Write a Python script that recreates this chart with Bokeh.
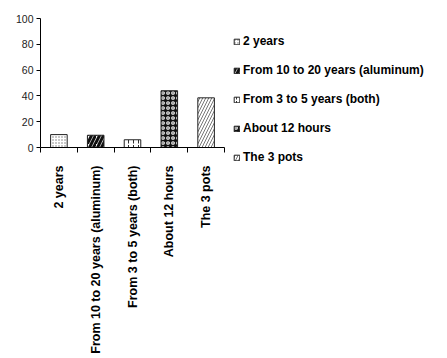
import math
from bokeh.plotting import figure
from bokeh.models import ColumnDataSource, FixedTicker, Range1d, Legend, LegendItem, Label
from bokeh.embed import file_html
from bokeh.resources import INLINE

categories = ["2 years", "From 10 to 20 years (aluminum)", "From 3 to 5 years (both)",
              "About 12 hours", "The 3 pots"]
values = [10, 9.5, 6, 44, 38.5]
y_ticks = [0, 20, 40, 60, 80, 100]

patterns = ["dot", "right_diagonal_line", "vertical_dash", "ring", "right_diagonal_line"]
fills = ["white", "white", "white", "#111111", "white"]
hatch_colors = ["#777777", "#111111", "#333333", "white", "#777777"]
hatch_weights = [1, 3, 1, 1.2, 1]
hatch_scales = [3, 8, 5, 5, 6]

xs = [i + 0.5 for i in range(len(categories))]
src = ColumnDataSource(dict(x=xs, top=values, cat=categories, hp=patterns, fc=fills,
                            hc=hatch_colors, hw=hatch_weights, hs=hatch_scales))

p = figure(frame_width=184, frame_height=129, output_backend="svg", toolbar_location=None,
           x_range=Range1d(0, len(categories)), y_range=Range1d(0, 100),
           min_border_left=40, min_border_right=0, min_border_top=18, min_border_bottom=193)
p.outline_line_color = None
p.grid.grid_line_color = None
p.background_fill_color = "white"

r = p.vbar(x="x", top="top", width=0.45, source=src, fill_color="fc", line_color="#222222",
           line_width=1, hatch_pattern="hp", hatch_color="hc", hatch_weight="hw", hatch_scale="hs")

font = "Liberation Sans"
xa = p.xaxis[0]
xa.ticker = FixedTicker(ticks=xs, minor_ticks=list(range(len(categories) + 1)))
xa.major_label_overrides = {x: c for x, c in zip(xs, categories)}
xa.major_tick_line_color = None
xa.major_tick_out = 0
xa.major_tick_in = 0
xa.minor_tick_out = 5
xa.minor_tick_in = 0
xa.minor_tick_line_color = "black"
xa.axis_line_color = "black"
xa.major_label_orientation = math.pi / 2
xa.major_label_text_font = font
xa.major_label_text_font_style = "bold"
xa.major_label_text_font_size = "12.5px"
xa.major_label_text_color = "black"
xa.major_label_standoff = 13

ya = p.yaxis[0]
ya.ticker = FixedTicker(ticks=y_ticks)
ya.minor_tick_line_color = None
ya.major_tick_out = 4
ya.major_tick_in = 0
ya.major_label_text_font = font
ya.major_label_text_font_size = "10.5px"
ya.major_label_text_color = "#222222"
ya.axis_line_color = "black"
ya.major_label_standoff = 3

pct = Label(x=-0.68, y=48, text="%", text_font=font, text_font_style="bold",
            text_font_size="10px", text_color="black", text_align="center", text_baseline="middle")
p.add_layout(pct)

legend = Legend(items=[LegendItem(label=c, renderers=[r], index=i) for i, c in enumerate(categories)],
                location="top_left", orientation="vertical")
legend.glyph_width = 7
legend.glyph_height = 7
legend.label_height = 28
legend.spacing = 1
legend.padding = 4
legend.margin = 9
legend.label_standoff = 3
legend.border_line_color = None
legend.background_fill_alpha = 0
legend.label_text_font = font
legend.label_text_font_style = "bold"
legend.label_text_font_size = "12px"
legend.label_text_color = "black"
p.add_layout(legend, "right")

open("out.html", "w").write(file_html(p, INLINE))
